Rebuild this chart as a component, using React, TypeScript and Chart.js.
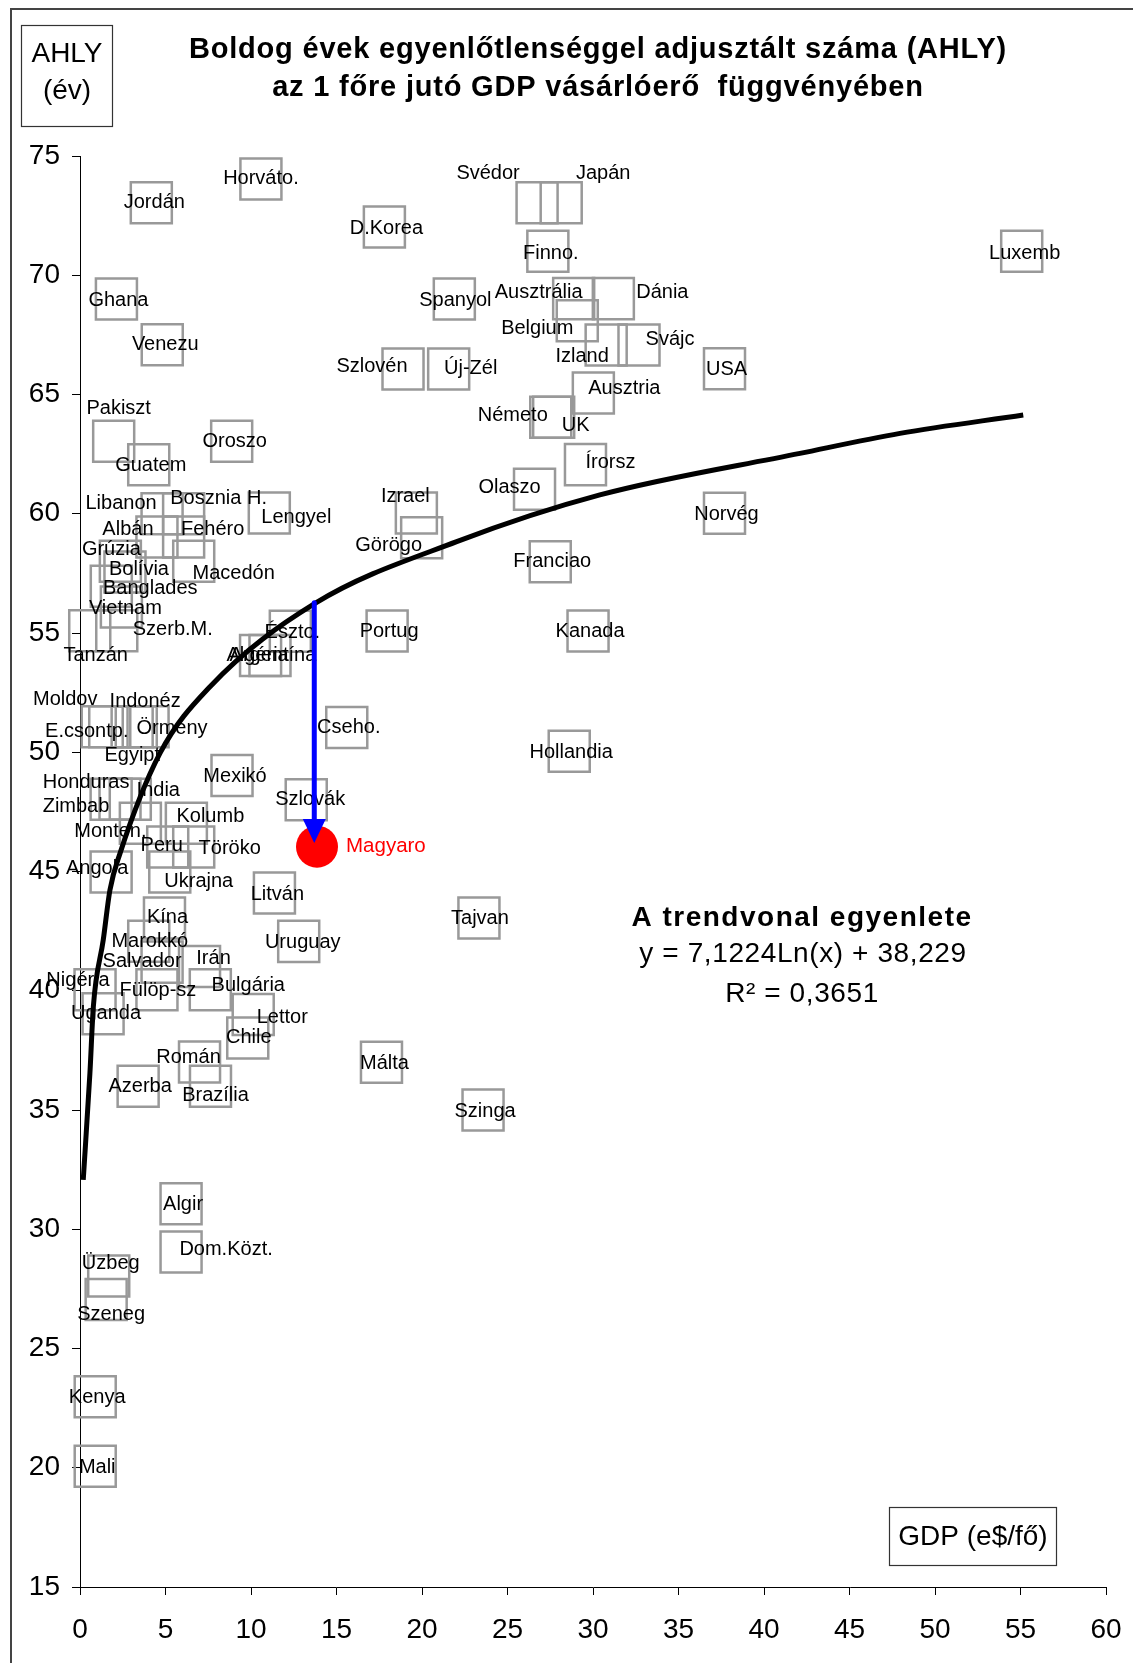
import React, { useEffect, useRef } from 'react';
import { Chart, registerables } from 'chart.js';

Chart.register(...registerables);

const FONT = '"Liberation Sans", Arial, sans-serif';

// Country data: name, GDP (e$/fő), AHLY (év)
const countries = [
  'Horváto.', 'Jordán', 'D.Korea', 'Svédor', 'Japán', 'Finno.', 'Luxemb', 'Ghana', 'Spanyol', 'Ausztrália',
  'Dánia', 'Belgium', 'Venezu', 'Izland', 'Svájc', 'Szlovén', 'Új-Zél', 'USA', 'Ausztria', 'Pakiszt',
  'Oroszo', 'Németo', 'UK', 'Írorsz', 'Guatem', 'Olaszo', 'Izrael', 'Lengyel', 'Norvég', 'Libanon',
  'Bosznia H.', 'Albán', 'Fehéro', 'Görögo', 'Macedón', 'Grúzia', 'Franciao', 'Bolívia', 'Banglades', 'Vietnam',
  'Szerb.M.', 'Tanzán', 'Portug', 'Kanada', 'Észto.', 'Argentína', 'Algéria', 'Moldov', 'E.csontp.', 'Indonéz',
  'Örmény', 'Egyipt', 'Mexikó', 'Cseho.', 'Hollandia', 'Szlovák', 'Honduras', 'India', 'Zimbab', 'Monten.',
  'Kolumb', 'Peru', 'Töröko', 'Ukrajna', 'Angola', 'Litván', 'Kína', 'Tajvan', 'Uruguay', 'Marokkó',
  'Salvador', 'Irán', 'Fülöp-sz', 'Bulgária', 'Nigéria', 'Uganda', 'Lettor', 'Chile', 'Román', 'Málta',
  'Brazília', 'Azerba', 'Szinga', 'Algir', 'Dom.Közt.', 'Üzbeg', 'Szeneg', 'Kenya', 'Mali',
];

const gdp = [
  10.58, 4.17, 17.80, 26.73, 28.14, 27.36, 55.07, 2.13, 21.89, 28.87,
  31.19, 29.08, 4.81, 30.77, 32.69, 18.89, 21.56, 37.69, 30.02, 1.97,
  8.87, 27.53, 27.70, 29.56, 4.02, 26.58, 19.67, 11.07, 37.69, 4.80,
  6.06, 4.50, 6.06, 19.98, 6.65, 2.36, 27.50, 2.63, 1.83, 2.42,
  2.15, 0.57, 17.96, 29.71, 12.30, 11.11, 10.56, 1.30, 1.74, 3.05,
  3.98, 3.29, 8.89, 15.60, 28.61, 13.23, 1.82, 2.94, 2.34, 3.53,
  6.22, 5.13, 6.65, 5.25, 1.82, 11.37, 4.94, 23.33, 12.79, 4.02,
  4.80, 6.99, 4.50, 7.62, 0.88, 1.35, 10.13, 9.81, 6.99, 17.63,
  7.63, 3.40, 23.57, 5.91, 5.91, 1.68, 1.53, 0.89, 0.89,
];

const ahly = [
  74.04, 73.04, 72.02, 73.04, 73.04, 71.01, 71.01, 69.00, 69.00, 69.02,
  69.02, 68.09, 67.09, 67.08, 67.08, 66.07, 66.07, 66.08, 65.06, 63.04,
  63.04, 64.05, 64.05, 62.06, 62.05, 61.03, 60.03, 60.03, 60.02, 60.00,
  60.00, 59.03, 59.03, 58.99, 58.01, 58.01, 57.99, 57.56, 56.96, 56.09,
  55.09, 55.09, 55.08, 55.08, 55.07, 54.06, 54.06, 51.07, 51.07, 51.07,
  51.07, 51.07, 49.03, 51.04, 50.04, 48.01, 48.03, 48.03, 48.03, 47.02,
  47.02, 46.03, 46.03, 44.98, 44.98, 44.10, 43.05, 43.05, 42.07, 42.08,
  41.20, 41.02, 40.04, 40.04, 40.04, 39.04, 39.00, 38.02, 37.01, 37.00,
  36.00, 36.00, 35.00, 31.07, 29.05, 28.04, 27.05, 22.98, 20.06,
];

// Data label offsets (pixels) relative to the marker
const labelDx = [
  0, 3, 2, -49, 42, 3, 3, 2, 1, -35,
  49, -40, 3, -24, 31, -31, 22, 2, 31, 5,
  3, -38, 22, 25, 2, -25, -11, 27, 2, -41,
  35, -29, 29, -33, 40, -9, 2, 14, 39, 4,
  56, 6, 2, 2, 2, 3, -3, -37, -23, 13,
  24, -4, 3, 2, 2, 4, -25, 28, -44, -30,
  24, -6, 36, 29, -14, 3, 3, 1, 4, 1,
  -20, 14, 1, 38, -17, 3, 29, 1, -11, 3,
  5, 2, 2, 2, 45, 2, 5, 2, 2,
];
const labelDy = [
  0, 0, 1, -29, -29, 2, 2, 1, 1, -6,
  -6, 8, 0, 12, -5, -2, 0, 1, -5, -33,
  0, -2, 8, -2, 1, -2, -17, 4, 1, -10,
  -15, -7, -7, 8, 12, -12, 0, -2, 2, 1,
  -1, 25, 0, 0, 1, 0, 0, -27, 5, -25,
  2, 29, 1, 0, 1, 0, -17, -9, 7, 8,
  -7, -1, 2, 10, -3, 2, -1, 0, 1, 0,
  -1, -8, 1, -4, -9, 0, 3, 0, -5, 1,
  9, 0, 1, 1, -2, -13, 15, 1, 1,
];

// Magyarország (highlighted)
const hunName = 'Magyaro';
const hunGdp = [13.86];
const hunAhly = [46.04];

// Logarithmic trendline
const trendGdp = [0.19, 0.58, 0.78, 1.36, 1.75, 2.34, 4.68, 7.6, 13.74, 22.03, 30.4, 42.1, 47.95, 55.16];
const trendAhly = [32.07, 36.55, 39.33, 42.13, 44.22, 45.76, 49.96, 52.75, 56.24, 58.83, 60.79, 62.53, 63.37, 64.14];

// Blue arrow (trend value -> Hungary)
const arrowGdp = [13.7, 13.7];
const arrowAhly = [56.27, 46.2];

const xTicks = [0, 5, 10, 15, 20, 25, 30, 35, 40, 45, 50, 55, 60];
const yTicks = [15, 20, 25, 30, 35, 40, 45, 50, 55, 60, 65, 70, 75];

const titleLines = [
  'Boldog évek egyenlőtlenséggel adjusztált száma (AHLY)',
  'az 1 főre jutó GDP vásárlóerő  függvényében',
];
const yAxisTitle = ['AHLY', '(év)'];
const xAxisTitle = 'GDP (e$/fő)';
const trendTitle = 'A trendvonal egyenlete';
const trendEquation = 'y = 7,1224Ln(x) + 38,229';
const trendR2 = 'R² = 0,3651';

const W = 1133;
const H = 1663;

export default function App() {
  const ref = useRef<HTMLCanvasElement | null>(null);

  useEffect(() => {
    const canvas = ref.current;
    if (!canvas) return;

    const overlay = {
      id: 'overlay',
      afterDatasetsDraw(chart: any) {
        const ctx = chart.ctx as CanvasRenderingContext2D;
        ctx.save();
        ctx.font = `20px ${FONT}`;
        ctx.fillStyle = '#000';
        ctx.textAlign = 'center';
        ctx.textBaseline = 'middle';
        const meta = chart.getDatasetMeta(0);
        meta.data.forEach((pt: any, i: number) => {
          ctx.fillText(countries[i], pt.x + labelDx[i], pt.y + labelDy[i]);
        });
        const hm = chart.getDatasetMeta(1).data[0];
        ctx.fillStyle = '#ff0000';
        ctx.textAlign = 'left';
        ctx.font = `20.5px ${FONT}`;
        ctx.fillText(hunName, hm.x + 29, hm.y);

        // arrow
        const xs = chart.scales.x;
        const ys = chart.scales.y;
        const ax = xs.getPixelForValue(arrowGdp[0]);
        const ay0 = ys.getPixelForValue(arrowAhly[0]);
        const ax1 = xs.getPixelForValue(arrowGdp[1]);
        const ay1 = ys.getPixelForValue(arrowAhly[1]);
        const headLen = 24;
        const headHalf = 11.5;
        ctx.strokeStyle = '#0000ff';
        ctx.fillStyle = '#0000ff';
        ctx.lineWidth = 5;
        ctx.lineCap = 'round';
        ctx.beginPath();
        ctx.moveTo(ax, ay0);
        ctx.lineTo(ax1, ay1 - headLen + 2);
        ctx.stroke();
        ctx.beginPath();
        ctx.moveTo(ax1, ay1);
        ctx.lineTo(ax1 - headHalf, ay1 - headLen);
        ctx.lineTo(ax1 + headHalf, ay1 - headLen);
        ctx.closePath();
        ctx.fill();
        ctx.restore();
      },
      afterDraw(chart: any) {
        const ctx = chart.ctx as CanvasRenderingContext2D;
        ctx.save();
        // outer frame
        ctx.strokeStyle = '#444';
        ctx.lineWidth = 2;
        ctx.strokeRect(11, 9, W + 50, H + 50);

        // title
        ctx.fillStyle = '#000';
        ctx.textAlign = 'center';
        ctx.textBaseline = 'middle';
        ctx.font = `bold 29px ${FONT}`;
        (ctx as any).letterSpacing = '0.8px';
        ctx.fillText(titleLines[0], 598, 50);
        ctx.fillText(titleLines[1], 598, 88);
        (ctx as any).letterSpacing = '0px';

        // y axis title box
        ctx.strokeStyle = '#333';
        ctx.lineWidth = 1.2;
        ctx.strokeRect(21.5, 25.5, 91, 101);
        ctx.font = `28px ${FONT}`;
        ctx.fillText(yAxisTitle[0], 67, 54);
        ctx.fillText(yAxisTitle[1], 67, 91);

        // x axis title box
        ctx.strokeRect(889.5, 1507.5, 167, 58);
        ctx.fillText(xAxisTitle, 973, 1537);

        // trend equation
        ctx.font = `bold 28px ${FONT}`;
        (ctx as any).letterSpacing = '1.5px';
        ctx.fillText(trendTitle, 802, 918);
        ctx.font = `28px ${FONT}`;
        (ctx as any).letterSpacing = '0.6px';
        ctx.fillText(trendEquation, 803, 954);
        ctx.fillText(trendR2, 802, 994);
        (ctx as any).letterSpacing = '0px';
        ctx.restore();
      },
    };

    const chart = new Chart(canvas, {
      type: 'scatter',
      data: {
        datasets: [
          {
            data: gdp.map((g, i) => ({ x: g, y: ahly[i] })),
            pointStyle: 'rect',
            pointRadius: 29,
            borderColor: '#999999',
            borderWidth: 2.5,
            backgroundColor: 'rgba(0,0,0,0)',
            clip: false as any,
            order: 4,
          } as any,
          {
            data: hunGdp.map((g, i) => ({ x: g, y: hunAhly[i] })),
            pointStyle: 'circle',
            pointRadius: 21,
            backgroundColor: '#ff0000',
            borderColor: '#ff0000',
            borderWidth: 0,
            clip: false as any,
            order: 3,
          } as any,
          {
            data: trendGdp.map((g, i) => ({ x: g, y: trendAhly[i] })),
            showLine: true,
            pointRadius: 0,
            borderColor: '#000000',
            borderWidth: 5,
            cubicInterpolationMode: 'monotone',
            fill: false,
            order: 2,
          } as any,
        ],
      },
      options: {
        responsive: false,
        animation: false,
        devicePixelRatio: 1,
        layout: { autoPadding: false, padding: { left: 0, top: 156, right: 27, bottom: 0 } },
        plugins: {
          legend: { display: false },
          tooltip: { enabled: false },
          title: { display: false },
        },
        scales: {
          x: {
            type: 'linear',
            min: 0,
            max: 60,
            afterBuildTicks: (s: any) => {
              s.ticks = xTicks.map((v) => ({ value: v }));
            },
            afterFit: (s: any) => {
              s.height = H - 1587;
              s.paddingLeft = 0;
              s.paddingRight = 0;
            },
            ticks: {
              color: '#000',
              font: { family: FONT, size: 28 },
              padding: 18,
              maxRotation: 0,
              autoSkip: false,
            },
            grid: { drawOnChartArea: false, drawTicks: true, tickLength: 8, color: '#000', lineWidth: 1 },
            border: { display: true, color: '#000', width: 1 },
          },
          y: {
            type: 'linear',
            min: 15,
            max: 75,
            afterBuildTicks: (s: any) => {
              s.ticks = yTicks.map((v) => ({ value: v }));
            },
            afterFit: (s: any) => {
              s.width = 80;
              s.paddingTop = 0;
              s.paddingBottom = 0;
            },
            ticks: {
              color: '#000',
              font: { family: FONT, size: 28 },
              padding: 12,
              autoSkip: false,
            },
            grid: { drawOnChartArea: false, drawTicks: true, tickLength: 8, color: '#000', lineWidth: 1 },
            border: { display: true, color: '#000', width: 1 },
          },
        },
      } as any,
      plugins: [overlay],
    });

    return () => {
      chart.destroy();
    };
  }, []);

  return (
    <div style={{ position: 'absolute', left: 0, top: 0, width: W, height: H, background: '#fff' }}>
      <canvas ref={ref} width={W} height={H} style={{ display: 'block', width: W, height: H }} />
    </div>
  );
}
